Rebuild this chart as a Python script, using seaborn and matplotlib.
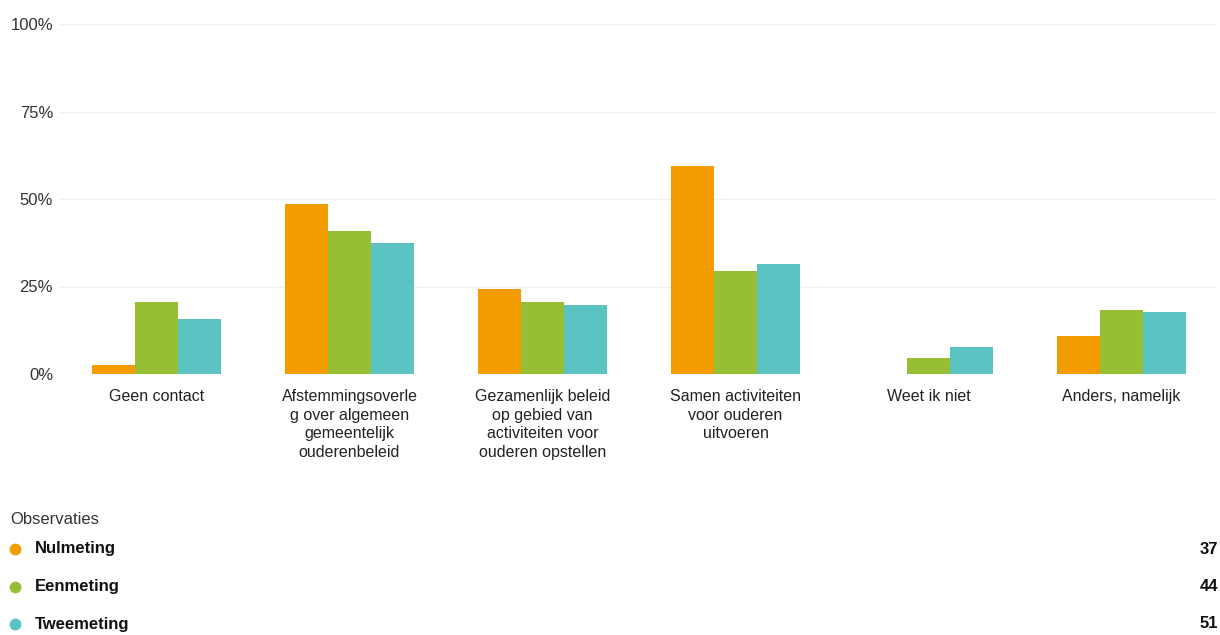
import pandas as pd
import seaborn as sns
import matplotlib.pyplot as plt

categories = ['Geen contact',
              'Afstemmingsoverleg over algemeen gemeentelijk ouderenbeleid',
              'Gezamenlijk beleid op gebied van activiteiten voor ouderen opstellen',
              'Samen activiteiten voor ouderen uitvoeren',
              'Weet ik niet',
              'Anders, namelijk']
tick_labels = ['Geen contact',
               'Afstemmingsoverle\ng over algemeen\ngemeentelijk\nouderenbeleid',
               'Gezamenlijk beleid\nop gebied van\nactiviteiten voor\nouderen opstellen',
               'Samen activiteiten\nvoor ouderen\nuitvoeren',
               'Weet ik niet',
               'Anders, namelijk']
series = ['Nulmeting', 'Eenmeting', 'Tweemeting']
counts = [37, 44, 51]
nulmeting = [2.7, 48.6, 24.3, 59.5, 0.0, 10.8]
eenmeting = [20.5, 40.9, 20.5, 29.5, 4.5, 18.2]
tweemeting = [15.7, 37.3, 19.6, 31.4, 7.8, 17.6]

pal = ['#f29c00', '#97bf35', '#5bc4c3']

df = pd.DataFrame({
    'categorie': categories * 3,
    'meting': [s for s in series for _ in categories],
    'pct': nulmeting + eenmeting + tweemeting,
})

sns.set_theme(style='white')
plt.rcParams['font.family'] = ['Liberation Sans', 'DejaVu Sans']

fig = plt.figure(figsize=(12.2, 6.35), dpi=100)
ax = fig.add_axes([60 / 1220, 1 - 374 / 635, 1158 / 1220, 350 / 635])

sns.barplot(data=df, x='categorie', y='pct', hue='meting', palette=pal,
            saturation=1, width=0.67, gap=0, linewidth=0, legend=False, ax=ax)

ax.set_ylim(0, 100)
ax.set_xlim(-0.5, len(categories) - 0.5)
ax.set_yticks([0, 25, 50, 75, 100])
ax.set_yticklabels(['0%', '25%', '50%', '75%', '100%'])
ax.set_xticks(range(len(categories)))
ax.set_xticklabels(tick_labels, linespacing=1.3, va='top')
ax.tick_params(axis='x', length=0, pad=11, labelsize=11.5, colors='#222222')
ax.tick_params(axis='y', length=0, pad=5, labelsize=12, colors='#333333')
ax.set_xlabel('')
ax.set_ylabel('')
ax.yaxis.grid(True, color='#f0f0f0', linewidth=1)
ax.set_axisbelow(True)
sns.despine(ax=ax, left=True, bottom=True)

# legend block below the chart
fig.text(10 / 1220, 1 - 519 / 635, 'Observaties', fontsize=12,
         color='#333333', va='center', ha='left')
for i, (name, n) in enumerate(zip(series, counts)):
    y = 1 - (549 + i * 37.5) / 635
    fig.add_artist(plt.Line2D([15 / 1220], [y], marker='o', markersize=7.5,
                              color=pal[i], transform=fig.transFigure))
    fig.text(35 / 1220, y, name, fontsize=12, fontweight='bold',
             color='#111111', va='center', ha='left')
    fig.text(1218 / 1220, y, str(n), fontsize=12, fontweight='bold',
             color='#111111', va='center', ha='right')

plt.savefig('out.png', dpi=100)
